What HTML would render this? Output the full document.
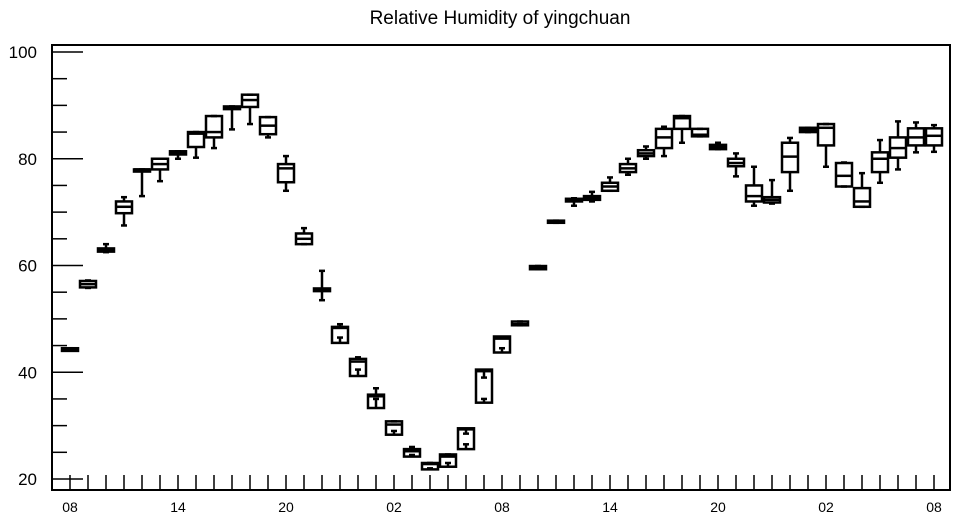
<!DOCTYPE html>
<html><head><meta charset="utf-8"><style>
body{margin:0;background:#fff}
svg{display:block;font-family:"Liberation Sans",sans-serif}
</style></head><body>
<svg id="chart" width="957" height="520">
<text x="500" y="24" text-anchor="middle" font-size="19">Relative Humidity of yingchuan</text>
<rect x="52" y="45" width="898" height="445" fill="none" stroke="#000" stroke-width="2"/>
<g id="axes"></g>
<g id="boxes"></g>
</svg>
<script>
const wLow=[44.2,55.8,62.5,67.5,73,75.8,80,80.2,82,85.5,86.5,84,74,64,53.5,46.5,40.5,35,29,24.5,22,23,26.5,35,44.5,48.8,59.3,68,71.2,72,74,77,80,80.5,83,84.2,81.8,76.7,71.2,71.6,74,85,78.5,74.8,71,75.5,78,81.2,81.3];
const q1=[44,55.9,62.6,69.8,77.6,78,80.8,82.2,84,89.3,89.7,84.6,75.6,64,55.2,45.5,39.3,33.3,28.3,24.2,21.8,22.3,25.6,34.3,43.7,48.8,59.3,68,72,72.3,74,77.5,80.5,82,85.6,84.2,81.8,78.6,72,71.8,77.5,85,82.5,74.8,71,77.5,80.2,82.5,82.5];
const med=[44.2,56.5,63,71,78,79,81,84.7,85,89.5,91,86.2,78.2,65,55.5,48.3,42,35.5,30.2,25.2,22.8,24.2,29.3,40.2,46.3,49,59.6,68.2,72.3,72.6,74.8,78.2,81,84,87.6,84.5,82.2,79.2,73,72.3,80.4,85.4,85.8,76.8,72,80,82,84,84.3];
const q3=[44.5,57.1,63.2,72,78,80,81.4,85,88,89.8,92,87.8,79,66,55.7,48.5,42.5,35.8,30.8,25.6,23,24.6,29.5,40.5,46.7,49.5,59.9,68.4,72.5,73,75.5,79,81.6,85.6,88,85.6,82.6,80,75,72.8,83,85.8,86.5,79.2,74.5,81.2,84,85.7,85.7];
const wHigh=[44.5,57.2,64,72.8,78,80,81.4,85,88,89.8,92,87.8,80.5,67,59,49,42.8,37,30.8,26,23,24.6,28.5,39,46.5,49.5,59.9,68.4,72.6,73.8,76.5,80,82.3,86,88,85.6,83,81,78.5,76,83.9,85.8,86.5,79.3,77.3,83.5,87,86.8,86.3];
const yTicks=[20,40,60,80,100];
const xLabels=["08","14","20","02","08","14","20","02","08"];

const NS="http://www.w3.org/2000/svg";
const X0=70,DX=18,Y20=479,PPU=5.3375;
function xs(i){return X0+i*DX;}
function ys(v){return Y20-(v-20)*PPU;}
function mk(tag,attrs,parent){const e=document.createElementNS(NS,tag);for(const k in attrs)e.setAttribute(k,attrs[k]);parent.appendChild(e);return e;}
const axes=document.getElementById('axes');
// y ticks
for(let v=20;v<=100;v+=5){
  const major=v%20===0;
  const t=mk('line',{x1:52,x2:major?83:67,y1:ys(v),y2:ys(v),stroke:'#000','stroke-width':1.5},axes);
  
  
}
yTicks.forEach(v=>{
  const t=mk('text',{x:37,y:ys(v)+6,'text-anchor':'end','font-size':17},axes);
  t.textContent=v;
  
  
});
// x ticks
for(let i=-1;i<=48;i++){
  const x=xs(i);
  if(x<52)continue;
  const t=mk('line',{x1:x,x2:x,y1:475,y2:490,stroke:'#000','stroke-width':1.5},axes);
  
  
}
xLabels.forEach((s,k)=>{
  const t=mk('text',{x:xs(k*6),y:512,'text-anchor':'middle','font-size':14},axes);
  t.textContent=s;
  
  
});
// boxes
const bg=document.getElementById('boxes');
for(let i=0;i<med.length;i++){
  const g=mk('g',{stroke:'#000','stroke-width':2.5,fill:'none'},bg);
  
  
  const x=xs(i),hw=8;
  mk('line',{x1:x,x2:x,y1:ys(wLow[i]),y2:ys(q1[i])},g);
  mk('line',{x1:x,x2:x,y1:ys(q3[i]),y2:ys(wHigh[i])},g);
  mk('line',{x1:x-3,x2:x+3,y1:ys(wLow[i]),y2:ys(wLow[i])},g);
  mk('line',{x1:x-3,x2:x+3,y1:ys(wHigh[i]),y2:ys(wHigh[i])},g);
  const top=ys(q3[i]),bot=ys(q1[i]);
  mk('rect',{x:x-hw,y:top,width:2*hw,height:Math.max(bot-top,2)},g);
  mk('line',{x1:x-hw,x2:x+hw,y1:ys(med[i]),y2:ys(med[i])},g);
}
</script>
</body></html>
